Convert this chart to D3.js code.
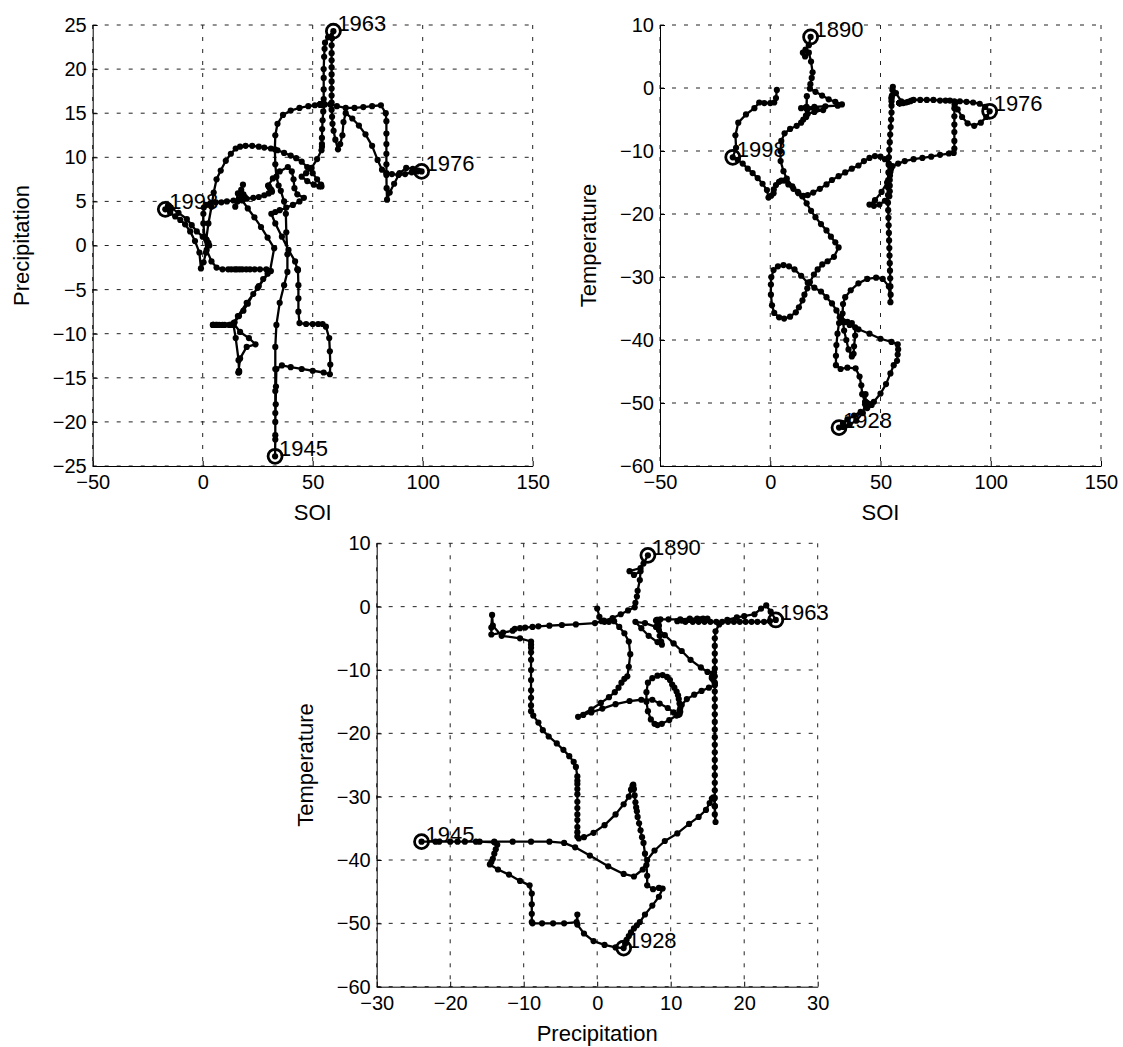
<!DOCTYPE html>
<html>
<head>
<meta charset="utf-8">
<script src="https://cdn.jsdelivr.net/npm/d3@7"></script>
<style>
body { margin: 0; background: #fff; }
svg { display: block; }
text { font-family: "Liberation Sans", Arial, Helvetica, sans-serif; fill: #000; }
</style>
</head>
<body>
<svg id="chart" width="1123" height="1047"></svg>
<script>
'use strict';

// trajectory of the three indices, one entry per step
var aSoi = [
	// 1890 ...
	18.3,17.5,16,14.8,15.8,17.5,18.5,19.2,18.8,18.2, 18,20.5,23.5,26.5,29.5,32.5,30.6,25,20,16,
	14,17,21,24,20,17,16.2,16.4,16.6,16.5, 16.3,15,14,12,9,6.5,5,4.6,4.7,6,
	7.5,10,12.5,14.5,16.5,18.5,20.5,23,25.5,27.5, 29.5,31,
	28.9,26,23.6,21.5,19.8,18,16.8,15.5,14.6,13, 11.6,9,6.3,4,1.8,0.8,0.3,0.3,0.5,1.5,
	3.5,6,8.5,11,14,17,20,23,25.5,28, 30,31.5,
	31.2,30.5,30,29.8,29.8,31.9,35,38.7,40.5,41.3, 41.7,43,46,44,41,38,35,33,31.2,
	// 1928 ...
	33,36,39,42,43,43.2,43.3,43.5,43.5,43.5, 44,47,50,52.5,54.5,56,57.5,57.8,58,57.8,
	55,50,45,40,36,33.5,33.3,33.2,33,33, 32.9,
	// 1945 ...
	33,33,33,33,33,33.5,35,37,38.5,38.5, 38,37.8,37,35.5,34.5,33.5,33,32.8,33,34,
	36.5,40,44,48,51,53.8,54.5,
	54.6,54.5,54.4,54.3,54.2,54.1,54,53.9,53.8,53.7, 53.6,53.5,53.4,53.4,53.4,53.5,53.6,53.7,53.8,54,
	54.2,54.4,54.6,54.8,55,
	55,55,55,55,55.2,55.4,55.6,57,59.4,
	// 1963 ...
	58.8,58.6,58.6,58.6,58.6,58.6,58.6,58.6,58.6,58.6, 58.6,58.8,59,59.5,60.3,61.5,62.5,63.5,64,65,
	68,71,74,77,79.5,81.5,83.5,86,89,92, 95,97.5,99.5,98,95.5,92.5,89.5,87,85,83.8,
	83.6,83.5,83.5,83.5,83.5,83.5,83.5,83.2,81,77, 73,69,65,61,58,55.5,
	// 1976 ...
	54.8,54.5,54.3,54.2,54.2,54.2,54,52,49.5,47, 45,47.5,50.5,53,54,53.8,52,50,47.5,45,
	42.5,40,37,34,31,28,25.5,22.5,19.5,17, 15,12.8,10.5,8.2,6.3,5,4,2.6,1.6,1.5,
	0.4,-0.8,-1.5,-3.5,-5.7,-8,-10.2,-12.5,-14.8,-17,
	// 1998 ...
	-15.5,-15.8,-14.5,-11,-7.2,-5,-2.7,0,1.8,2.6, 3
];

var aPrecip = [
	6.9,6.3,5.9,4.4,5.0,5.9,5.8,5.5,5.4,5.2, 5.1,4.2,3.2,2.1,0.9,-0.3,-2.9,-4.8,-6.5,-8,
	-8.8,-9.8,-10.5,-11.2,-11.5,-12.8,-14.4,-14.4,-14.3,-14.2, -13,-10.5,-9,-9,-9,-9,-9,-9,-9,-9,
	-9,-9,-9,-8.7,-8,-7.4,-6.6,-5.5,-4.6,-3.8, -3.2,-2.9,
	-2.7,-2.7,-2.7,-2.7,-2.7,-2.7,-2.7,-2.7,-2.7,-2.7, -2.7,-2.7,-2.5,-1.8,-0.5,1,2.5,3.6,4.3,4.6,
	4.8,4.9,4.9,5,5.1,5.2,5.3,5.4,5.5,5.7, 5.9,6.1,
	6.3,6.5,6.7,6.8,6.8,7.6,8.4,8.9,8.4,7.5, 6.5,5.8,5.4,5,4.6,4.3,4,3.8,3.6,
	2.5,1,-0.5,-1.8,-2.7,-2.7,-2.8,-4.5,-6,-7.5, -8.8,-8.9,-8.9,-8.9,-8.9,-9.2,-10.5,-12,-13.5,-14.6,
	-14.4,-14.2,-14,-13.8,-13.6,-14,-16,-18,-20,-22, -23.9,
	-21.5,-19,-16.5,-14,-11.5,-9,-6.5,-4.5,-3,-1, 1.5,3.6,5,6.2,6.8,7.8,9.2,10.9,12.5,13.8,
	14.8,15.3,15.6,15.8,15.9,16,16.1,
	16,16,16,16,16,16,16,16,16,16, 16,16,16,16,16,16,16,16,16,16,
	16,16,16,16,16.1,
	16.6,17.7,19,20,21.4,22.3,23,23.6,24.3,
	23.5,22.7,21.8,21,20.2,19.4,18.6,17.8,17,16.2, 15.4,14.6,13.8,13,12,10.9,11.5,12.5,14,15,
	14.4,13.6,12.6,11.3,9.7,8.6,8.2,8.1,8,8.1, 8.3,8.4,8.4,8.5,8.7,8.8,8.2,7,6,5.2,
	6.5,8,9.2,10.4,11.5,12.7,14.1,15,15.9,15.8, 15.7,15.6,15.6,15.8,16,16,
	15.2,14.2,13.2,12.2,11.5,11.2,10.8,9.8,8.8,8.2, 7.8,7.3,6.9,6.7,6.7,6.9,7.5,8.2,8.9,9.5,
	9.9,10.2,10.5,10.8,11,11.1,11.2,11.3,11.3,11.2, 11,10.4,9.6,8.5,7.5,6,4.4,2.5,0.7,-0.8,
	-1.9,-2.6,-0.8,0.5,1.6,2.4,2.9,3.3,3.7,4.1,
	4.3,4.5,4.3,3.7,3.0,2.3,1.6,1.0,0.6,0.3, 0
];

var aTemp = [
	8.1,6.8,6.1,5.6,5.0,5.6,4.2,2.5,1.6,0.6, -0.1,-0.6,-1.2,-1.8,-2.2,-2.6,-2.8,-2.9,-3.0,-3.1,
	-3.2,-3.3,-3.4,-3.5,-3.8,-4.1,-4.4,-3.3,-1.3,-3, -4.6,-5,-5.5,-6,-6.5,-7.2,-8.4,-10,-11.6,-13.2,
	-14.4,-15.6,-16.5,-17.2,-18.3,-19.5,-20.5,-21.6,-22.6,-23.6, -24.5,-25.3,
	-26.8,-27.5,-28,-28.8,-29.6,-30.8,-31.8,-32.8,-33.7,-34.8, -35.6,-36.3,-36.6,-36.4,-35.7,-34.5,-32.8,-31.2,-30,-28.9,
	-28.3,-28.1,-28.3,-28.8,-29.8,-30.9,-31.7,-32.3,-33.2,-34.2, -35.3,-36.4,
	-37.3,-39,-40.8,-42.5,-44,-44.6,-44.4,-44.5,-45.8,-47.2, -48.6,-49.8,-50.3,-50.8,-51.4,-52,-52.6,-53.2,-53.9,
	-53.8,-53.4,-52.8,-51.6,-50.2,-48.6,-49.8,-50,-50,-50, -50,-49.8,-48.5,-47,-45.3,-44,-43.3,-42.3,-41.5,-40.7,
	-40.3,-39.8,-39,-38.3,-37.6,-37.2,-37.1,-37.1,-37.1,-37.1, -37.1,
	-37.1,-37.1,-37.1,-37.1,-37.1,-37.1,-37.1,-37.3,-38,-39.3, -41,-42.2,-42.6,-41.5,-40,-38.5,-37,-35.8,-34.3,-33.2,
	-32.1,-31,-30.3,-30.1,-30.3,-31.5,-34,
	-32.8,-31.5,-30.2,-29,-27.8,-26.6,-25.4,-24.2,-23,-21.8, -20.6,-19.4,-18.2,-17,-15.8,-14.6,-13.4,-12.2,-11,-9.8,
	-8.6,-7.4,-6.2,-5,-3.9,
	-2.8,-2.1,-1.7,-1.5,-1.2,-0.3,0.2,-0.8,-2.1,
	-2.3,-2.4,-2.4,-2.4,-2.4,-2.4,-2.4,-2.4,-2.4,-2.4, -2.4,-2.4,-2.4,-2.4,-2.4,-2.3,-2.2,-2.1,-2,-1.9,
	-1.9,-1.9,-1.9,-2,-2,-2,-2.1,-2.1,-2.2,-2.3, -2.5,-3,-3.7,-4.6,-5.5,-6,-5.6,-4.6,-3.4,-2.4,
	-2.6,-3.2,-4.5,-5.8,-7,-8.4,-9.6,-10.3,-10.4,-10.6, -10.9,-11.1,-11.3,-11.6,-12,-12.4,
	-12.8,-13.3,-13.9,-14.6,-15.5,-16.4,-17.2,-17.9,-18.5,-18.7, -18.5,-17.8,-16.5,-15,-13.5,-12,-11.3,-10.9,-10.8,-11.1,
	-11.6,-12.3,-12.8,-13.4,-14,-14.6,-15.3,-16,-16.6,-17, -17.1,-16.7,-16,-15.3,-14.7,-14.7,-14.9,-15.4,-16.1,-16.7,
	-17.1,-17.4,-16.2,-15.2,-14.3,-13.5,-12.8,-12,-11.4,-11,
	-9.5,-7.5,-5.5,-4.2,-3.2,-2.3,-2.4,-2.4,-2.3,-1.6, -0.3
];

// years of some steps (used to name the extremes)
var aMarkYears = [1890, 1928, 1945, 1963, 1976, 1998];
var aMarkIndex = [0, 102, 133, 194, 227, 300];

var aSoiTicks = [-50, 0, 50, 100, 150];
var aPrecipTicksTop = [-25, -20, -15, -10, -5, 0, 5, 10, 15, 20, 25];
var aPrecipTicksBottom = [-30, -20, -10, 0, 10, 20, 30];
var aTempTicks = [-60, -50, -40, -30, -20, -10, 0, 10];

var oSeries = { soi: aSoi, precip: aPrecip, temp: aTemp };

var aPanels = [
	{ x: 'soi', y: 'precip', xTicks: aSoiTicks, yTicks: aPrecipTicksTop, xLabel: 'SOI', yLabel: 'Precipitation',
	  left: 92.7, top: 25, width: 440, height: 441 },
	{ x: 'soi', y: 'temp', xTicks: aSoiTicks, yTicks: aTempTicks, xLabel: 'SOI', yLabel: 'Temperature',
	  left: 660, top: 25, width: 441, height: 441 },
	{ x: 'precip', y: 'temp', xTicks: aPrecipTicksBottom, yTicks: aTempTicks, xLabel: 'Precipitation', yLabel: 'Temperature',
	  left: 376.7, top: 543.3, width: 441, height: 443.4 }
];

var FONT = '"Liberation Sans", Arial, Helvetica, sans-serif';

function GetYear(i)
{
	var k = d3.minIndex(aMarkIndex, d => Math.abs(d - i));
	return aMarkYears[k];
}

function DrawPanel(svg, p)
{
	var xs = oSeries[p.x];
	var ys = oSeries[p.y];
	var bottom = p.top + p.height;

	var x = d3.scaleLinear().domain(d3.extent(p.xTicks)).range([p.left, p.left + p.width]);
	var y = d3.scaleLinear().domain(d3.extent(p.yTicks)).range([bottom, p.top]);

	var g = svg.append('g');

	// dashed grid
	var grid = g.append('g')
		.attr('stroke', '#222')
		.attr('stroke-width', 1)
		.attr('stroke-dasharray', '4,8');
	grid.selectAll('line.gx').data(p.xTicks).join('line')
		.attr('class', 'gx')
		.attr('x1', d => x(d)).attr('x2', d => x(d))
		.attr('y1', p.top).attr('y2', bottom);
	grid.selectAll('line.gy').data(p.yTicks).join('line')
		.attr('class', 'gy')
		.attr('x1', p.left).attr('x2', p.left + p.width)
		.attr('y1', d => y(d)).attr('y2', d => y(d));

	// axes, ticks pointing inwards
	var gx = g.append('g')
		.attr('transform', `translate(0,${bottom})`)
		.call(d3.axisBottom(x).tickValues(p.xTicks).tickSizeInner(-5).tickSizeOuter(0).tickPadding(9));
	var gy = g.append('g')
		.attr('transform', `translate(${p.left},0)`)
		.call(d3.axisLeft(y).tickValues(p.yTicks).tickSizeInner(-5).tickSizeOuter(0).tickPadding(6));
	[gx, gy].forEach(a => {
		a.attr('font-size', 20).attr('font-family', FONT);
		a.selectAll('path, line').attr('stroke', '#000').attr('stroke-width', 1);
	});

	// trajectory
	var idx = d3.range(xs.length);
	var line = d3.line()
		.x(i => x(xs[i]))
		.y(i => y(ys[i]));

	g.append('path')
		.datum(idx)
		.attr('d', line)
		.attr('fill', 'none')
		.attr('stroke', '#000')
		.attr('stroke-width', 2.3)
		.attr('stroke-linejoin', 'round');

	g.append('g')
		.selectAll('circle')
		.data(idx)
		.join('circle')
		.attr('cx', i => x(xs[i]))
		.attr('cy', i => y(ys[i]))
		.attr('r', 3.1)
		.attr('fill', '#000');

	// extremes of both axes get a ring and the year
	var aExt = [d3.maxIndex(ys), d3.maxIndex(xs), d3.minIndex(xs), d3.minIndex(ys)];
	aExt = aExt.filter((d, k) => aExt.indexOf(d) == k);

	var marks = g.append('g').selectAll('g').data(aExt).join('g');
	marks.append('circle')
		.attr('cx', i => x(xs[i]))
		.attr('cy', i => y(ys[i]))
		.attr('r', 7)
		.attr('fill', 'none')
		.attr('stroke', '#000')
		.attr('stroke-width', 2.8);
	marks.append('text')
		.attr('x', i => x(xs[i]) + 4)
		.attr('y', i => y(ys[i]))
		.attr('font-size', 22)
		.text(i => GetYear(i));

	// axis titles
	g.append('text')
		.attr('x', p.left + p.width / 2)
		.attr('y', bottom + 54)
		.attr('text-anchor', 'middle')
		.attr('font-size', 22)
		.text(p.xLabel);
	g.append('text')
		.attr('transform', `translate(${p.left - 64},${p.top + p.height / 2}) rotate(-90)`)
		.attr('text-anchor', 'middle')
		.attr('font-size', 22)
		.text(p.yLabel);
}

var svg = d3.select('#chart');
aPanels.forEach(p => DrawPanel(svg, p));
</script>
</body>
</html>
